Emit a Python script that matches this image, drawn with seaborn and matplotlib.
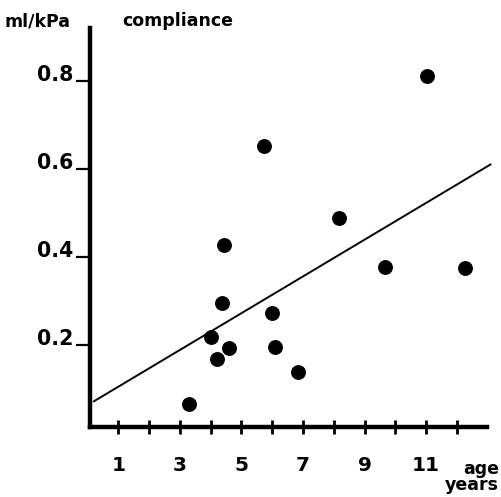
import numpy as np
import seaborn as sns
import matplotlib.pyplot as plt

# compliance (ml/kPa) against age (years)
age = [3.31, 4.00, 4.22, 4.36, 4.44, 4.59, 5.74, 6.00, 6.10, 6.85, 8.17, 9.68, 11.02, 12.26]
compliance = [0.067, 0.220, 0.169, 0.296, 0.427, 0.194, 0.653, 0.273, 0.196, 0.140,
              0.488, 0.378, 0.812, 0.375]

x_ticks = list(range(1, 13))
x_labels = ["1", "", "3", "", "5", "", "7", "", "9", "", "11", ""]
y_ticks = [0.2, 0.4, 0.6, 0.8]
y_labels = ["0.2", "0.4", "0.6", "0.8"]

sns.set_theme(style="white")
plt.rcParams["font.family"] = ["DejaVu Sans"]
plt.rcParams["text.color"] = "black"

fig = plt.figure(figsize=(5.01, 4.97), dpi=100)
ax = fig.add_axes([90 / 501, 70 / 497, 397 / 501, 399 / 497])

# range over which the fitted line is drawn
ax.set_xlim(0.2, 13.1)
sns.regplot(x=age, y=compliance, ax=ax, ci=None, truncate=False,
            scatter_kws=dict(s=115, color="black", linewidths=0, alpha=1),
            line_kws=dict(color="black", lw=1.4, clip_on=False))

ax.set_xlim(0.08, 12.98)
ax.set_ylim(0.015, 0.92)

for side in ["top", "right"]:
    ax.spines[side].set_visible(False)
for side in ["left", "bottom"]:
    ax.spines[side].set_linewidth(3.2)
    ax.spines[side].set_color("black")

ax.set_xticks(x_ticks)
ax.set_xticklabels(x_labels, fontsize=14.5, fontweight="bold", color="black")
ax.set_yticks(y_ticks)
ax.set_yticklabels(y_labels, fontsize=14.8, fontweight="bold", color="black")
ax.tick_params(axis="x", bottom=True, direction="inout", length=10, width=2,
               color="black", pad=16)
ax.tick_params(axis="y", left=True, direction="out", length=10, width=1.6,
               color="black", pad=2)
for lab in ax.get_yticklabels():
    lab.set_verticalalignment("baseline")

fig.text(5 / 501, 1 - 21 / 497, "ml/kPa", fontsize=12.5, fontweight="bold", va="center", ha="left")
fig.text(122 / 501, 1 - 21 / 497, "compliance", fontsize=12.5, fontweight="bold", va="center", ha="left")
fig.text(499 / 501, 1 - 477 / 497, "age\nyears", fontsize=12.5, fontweight="bold",
         va="center", ha="right", multialignment="right", linespacing=0.85)

fig.savefig("out.png", dpi=100, facecolor="white")
